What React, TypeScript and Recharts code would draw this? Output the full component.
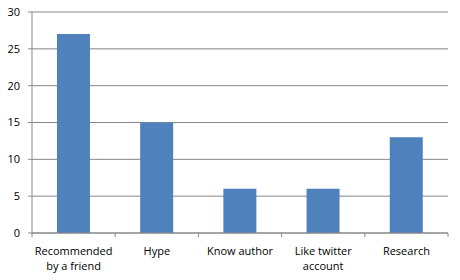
import React from "react";
import { BarChart, Bar, XAxis, YAxis, CartesianGrid } from "recharts";

const categories = ["Recommended by a friend", "Hype", "Know author", "Like twitter account", "Research"];
const categoryLines = [["Recommended", "by a friend"], ["Hype"], ["Know author"], ["Like twitter", "account"], ["Research"]];
const values = [27, 15, 6, 6, 13];
const yTicks = [0, 5, 10, 15, 20, 25, 30];

const data = categories.map((c, i) => ({ name: c, value: values[i] }));

const FONT = "'Open Sans', 'Noto Sans', sans-serif";
const GRID = "#878787";

const XTick = (props: any) => {
  const { x, y, payload, index, width, visibleTicksCount } = props;
  const bw = width / visibleTicksCount;
  const lines = categoryLines[index] || [payload.value];
  return (
    <g>
      <line x1={x - bw / 2} x2={x - bw / 2} y1={y - 8} y2={y - 4} stroke={GRID} />
      {index === visibleTicksCount - 1 && (
        <line x1={x + bw / 2} x2={x + bw / 2} y1={y - 8} y2={y - 4} stroke={GRID} />
      )}
      <text x={x} y={y} textAnchor="middle" fontFamily={FONT} fontSize={11} fill="#000">
        {lines.map((l: string, i: number) => (
          <tspan key={i} x={x} dy={i === 0 ? 14 : 15}>{l}</tspan>
        ))}
      </text>
    </g>
  );
};

export default function App() {
  return (
    <div style={{ position: "absolute", left: 0, top: 0, background: "#fff" }}>
      <BarChart
        width={460}
        height={280}
        data={data}
        margin={{ top: 12, right: 12, bottom: 0, left: 0 }}
        barCategoryGap="30%"
      >
        <CartesianGrid vertical={false} stroke={GRID} />
        <XAxis
          dataKey="name"
          height={47}
          axisLine={{ stroke: GRID }}
          tickLine={false}
          tick={<XTick />}
          interval={0}
        />
        <YAxis
          width={32}
          domain={[0, 30]}
          ticks={yTicks}
          axisLine={{ stroke: GRID }}
          tickLine={{ stroke: GRID }}
          tickSize={4}
          tickMargin={8}
          tick={{ fontFamily: FONT, fontSize: 11, fill: "#000" }}
        />
        <Bar dataKey="value" fill="#4F81BD" isAnimationActive={false} />
      </BarChart>
    </div>
  );
}
